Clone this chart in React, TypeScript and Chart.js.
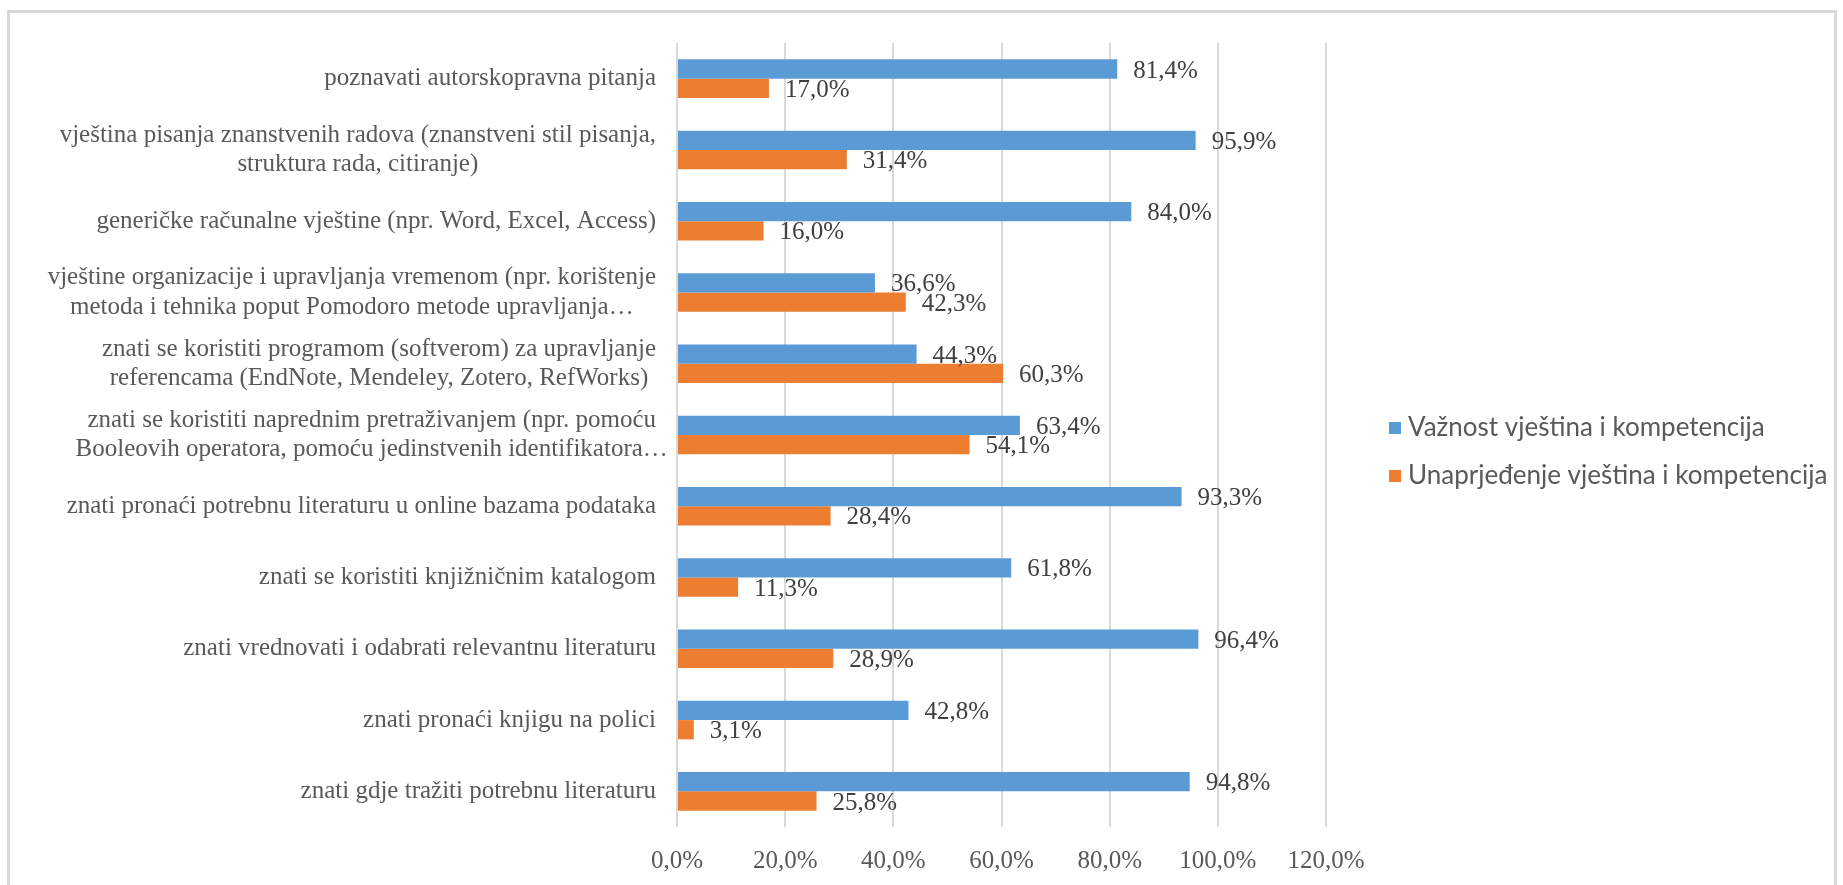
import React, { useEffect, useRef } from "react";
import { Chart, registerables } from "chart.js";

Chart.register(...registerables);

const categories: string[][] = [
  ["poznavati autorskopravna pitanja"],
  ["vještina pisanja znanstvenih radova (znanstveni stil pisanja,", "struktura rada, citiranje)"],
  ["generičke računalne vještine (npr. Word, Excel, Access)"],
  ["vještine organizacije i upravljanja vremenom (npr. korištenje", "metoda i tehnika poput Pomodoro metode upravljanja…"],
  ["znati se koristiti programom (softverom) za upravljanje", "referencama (EndNote, Mendeley, Zotero, RefWorks)"],
  ["znati se koristiti naprednim pretraživanjem (npr. pomoću", "Booleovih operatora, pomoću jedinstvenih identifikatora…"],
  ["znati pronaći potrebnu literaturu u online bazama podataka"],
  ["znati se koristiti knjižničnim katalogom"],
  ["znati vrednovati i odabrati relevantnu literaturu"],
  ["znati pronaći knjigu na polici"],
  ["znati gdje tražiti potrebnu literaturu"],
];

const importance = [81.4, 95.9, 84.0, 36.6, 44.3, 63.4, 93.3, 61.8, 96.4, 42.8, 94.8];
const improvement = [17.0, 31.4, 16.0, 42.3, 60.3, 54.1, 28.4, 11.3, 28.9, 3.1, 25.8];

const seriesNames = ["Važnost vještina i kompetencija", "Unaprjeđenje vještina i kompetencija"];
const seriesColors = ["#5B9BD5", "#ED7D31"];

const xMin = 0;
const xMax = 120;
const xStep = 20;

const SERIF = "'Liberation Serif', 'Times New Roman', serif";
const SANS = "Lato, 'Liberation Sans', sans-serif";

const fmt = (v: number) => v.toFixed(1).replace(".", ",") + "%";

const categoryLabelsPlugin = {
  id: "categoryLabels",
  afterDraw(chart: any) {
    const ctx = chart.ctx;
    const y = chart.scales.y;
    const right = chart.chartArea.left - 21;
    const lh = 29.4;
    ctx.save();
    ctx.font = `25px ${SERIF}`;
    ctx.fillStyle = "#595959";
    ctx.textAlign = "center";
    ctx.textBaseline = "middle";
    categories.forEach((lines, i) => {
      const cy = y.getPixelForValue(i);
      const w0 = ctx.measureText(lines[0]).width;
      const cx = right - w0 / 2;
      lines.forEach((ln, k) => {
        ctx.fillText(ln, cx, cy + (k - (lines.length - 1) / 2) * lh);
      });
    });
    ctx.restore();
  },
};

const dataLabelsPlugin = {
  id: "dataLabels",
  afterDatasetsDraw(chart: any) {
    const ctx = chart.ctx;
    ctx.save();
    ctx.font = `25px ${SERIF}`;
    ctx.fillStyle = "#404040";
    ctx.textAlign = "left";
    ctx.textBaseline = "middle";
    chart.data.datasets.forEach((ds: any, di: number) => {
      const meta = chart.getDatasetMeta(di);
      meta.data.forEach((bar: any, i: number) => {
        ctx.fillText(fmt(ds.data[i]), bar.x + 16, bar.y + 2);
      });
    });
    ctx.restore();
  },
};

const legendPlugin = {
  id: "customLegend",
  afterDraw(chart: any) {
    const ctx = chart.ctx;
    const x0 = chart.chartArea.right + 63;
    const rows = [428, 476];
    ctx.save();
    ctx.font = `26px ${SANS}`;
    ctx.textAlign = "left";
    ctx.textBaseline = "middle";
    seriesNames.forEach((name, i) => {
      const cy = rows[i];
      ctx.fillStyle = seriesColors[i];
      ctx.fillRect(x0, cy - 6, 12, 12);
      ctx.fillStyle = "#595959";
      ctx.fillText(name, x0 + 19, cy);
    });
    ctx.restore();
  },
};

export default function App() {
  const ref = useRef<HTMLCanvasElement | null>(null);

  useEffect(() => {
    if (!ref.current) return;
    const chart = new Chart(ref.current, {
      type: "bar",
      data: {
        labels: categories.map((c) => c.join(" ")),
        datasets: [
          {
            label: seriesNames[0],
            data: importance,
            backgroundColor: seriesColors[0],
            categoryPercentage: 0.541,
            barPercentage: 1,
          },
          {
            label: seriesNames[1],
            data: improvement,
            backgroundColor: seriesColors[1],
            categoryPercentage: 0.541,
            barPercentage: 1,
          },
        ],
      },
      options: {
        indexAxis: "y",
        responsive: false,
        animation: false,
        devicePixelRatio: 1,
        layout: { padding: { top: 43, right: 517, bottom: 0, left: 0 } },
        plugins: {
          legend: { display: false },
          tooltip: { enabled: false },
        },
        scales: {
          y: {
            type: "category",
            ticks: { display: false },
            grid: { display: false },
            border: { display: false },
            afterFit: (scale: any) => {
              scale.width = 677;
            },
          },
          x: {
            type: "linear",
            min: xMin,
            max: xMax,
            ticks: {
              stepSize: xStep,
              callback: (v: any) => fmt(Number(v)),
              font: { family: SERIF, size: 25 },
              color: "#595959",
              padding: 19,
            },
            grid: { color: "#D9D9D9", lineWidth: 2, drawTicks: false },
            border: { display: false },
            afterFit: (scale: any) => {
              scale.height = 58;
            },
          },
        },
      },
      plugins: [categoryLabelsPlugin, dataLabelsPlugin, legendPlugin],
    } as any);
    return () => chart.destroy();
  }, []);

  return (
    <div style={{ position: "fixed", left: 0, top: 0, width: 1843, height: 885, background: "#ffffff" }}>
      <div
        style={{
          position: "absolute",
          left: 7,
          top: 10,
          width: 1830,
          height: 900,
          border: "3px solid #D9D9D9",
          boxSizing: "border-box",
        }}
      />
      <canvas
        ref={ref}
        width={1843}
        height={885}
        style={{ position: "absolute", left: 0, top: 0, width: 1843, height: 885, display: "block" }}
      />
    </div>
  );
}
